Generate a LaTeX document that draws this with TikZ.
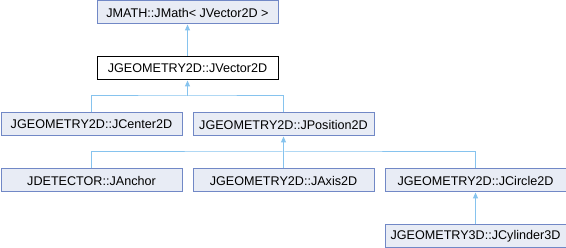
\documentclass[tikz,border=0pt]{standalone}
\usepackage{fontspec}
\setmainfont{Liberation Sans}
\usetikzlibrary{arrows.meta}
\definecolor{boxfill}{HTML}{E8ECF5}
\definecolor{boxline}{HTML}{7188C6}
\definecolor{edgecol}{HTML}{86C3EE}
\begin{document}
\begin{tikzpicture}[x=1pt,y=-1pt,
  cls/.style={draw=boxline, fill=boxfill, line width=1pt, minimum width=181pt, minimum height=23pt, inner sep=0pt, anchor=north west, font=\fontsize{12.6}{15}\selectfont},
  cur/.style={cls, draw=black, fill=white},
  inh/.style={draw=edgecol, line width=1pt, {Triangle[width=5pt,length=6pt]}-}]
\useasboundingbox (0,0) rectangle (566,248);
\node[cls] (jmath) at (96.5,0.5) {JMATH::JMath< JVector2D >};
\node[cur] (vec) at (96.5,56.5) {JGEOMETRY2D::JVector2D};
\node[cls] (center) at (0.5,112.5) {JGEOMETRY2D::JCenter2D};
\node[cls] (pos) at (192.5,112.5) {JGEOMETRY2D::JPosition2D};
\node[cls] (anchor) at (0.5,168.5) {JDETECTOR::JAnchor};
\node[cls] (axis) at (192.5,168.5) {JGEOMETRY2D::JAxis2D};
\node[cls] (circ) at (384.5,168.5) {JGEOMETRY2D::JCircle2D};
\node[cls] (cyl) at (384.5,224.5) {JGEOMETRY3D::JCylinder3D};
\coordinate (j1) at (vec.south |- 0,96);
\coordinate (j2) at (pos.south |- 0,152);
\draw[inh] (jmath.south) -- (vec.north);
\draw[inh] (vec.south) -- (j1);
\draw[draw=edgecol, line width=1pt] (center.north) |- (j1) -| (pos.north);
\draw[inh] (pos.south) -- (j2);
\draw[draw=edgecol, line width=1pt] (anchor.north) |- (j2) -| (circ.north);
\draw[draw=edgecol, line width=1pt] (j2) -- (axis.north);
\draw[inh] (circ.south) -- (cyl.north);
\end{tikzpicture}
\end{document}
